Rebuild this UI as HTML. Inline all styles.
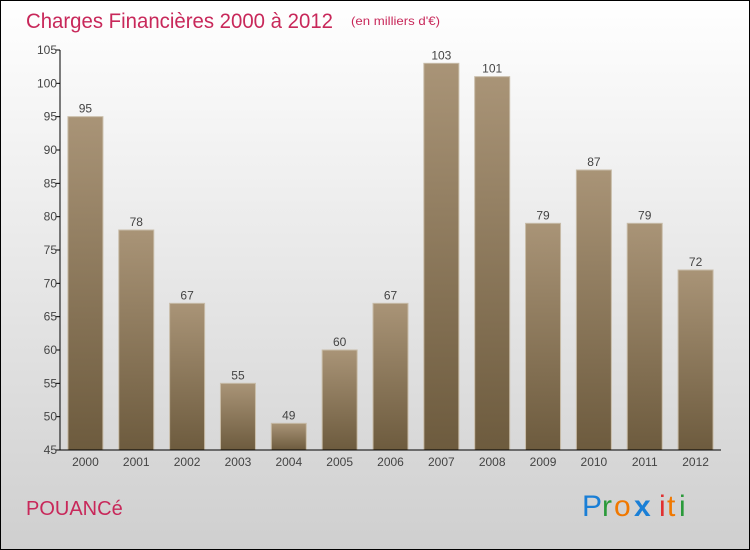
<!DOCTYPE html>
<html><head><meta charset="utf-8"><style>
body{margin:0;width:750px;height:550px;overflow:hidden}
svg{display:block}
text{font-family:"Liberation Sans",sans-serif}
</style></head><body>
<svg width="750" height="550">
<defs>
<linearGradient id="bg" x1="0" y1="0" x2="0" y2="1"><stop offset="0" stop-color="#ffffff"/><stop offset="1" stop-color="#cfcfcf"/></linearGradient>
<linearGradient id="bar" x1="0" y1="0" x2="0" y2="1"><stop offset="0" stop-color="#a99477"/><stop offset="1" stop-color="#6d5b3e"/></linearGradient>
</defs>
<rect x="0.5" y="0.5" width="749" height="549" fill="url(#bg)" stroke="#000"/>
<text x="26" y="28" font-size="21" fill="#c8285a" textLength="307" lengthAdjust="spacingAndGlyphs">Charges Financières 2000 à 2012</text>
<text x="351" y="25" font-size="12" fill="#c8285a" textLength="89" lengthAdjust="spacingAndGlyphs">(en milliers d'€)</text>
<g id="plot"></g>
<text x="26" y="515" font-size="20" fill="#c8285a">POUANCé</text>
<g font-size="30">
<text x="582" y="516" fill="#1a7fd6">P</text><text x="602" y="516" fill="#2a9a3a">r</text><text x="614" y="516" fill="#f07800">o</text><text x="634" y="516" fill="#1a7fd6" font-weight="bold">x</text><text x="659" y="516" fill="#e03030">i</text><text x="667" y="516" fill="#f07800">t</text><text x="679" y="516" fill="#2a9a3a">i</text>
</g>
</svg>
<script>
const categories=["2000","2001","2002","2003","2004","2005","2006","2007","2008","2009","2010","2011","2012"];
const values=[95,78,67,55,49,60,67,103,101,79,87,79,72];
const yTicks=[45,50,55,60,65,70,75,80,85,90,95,100,105];
const NS="http://www.w3.org/2000/svg";
const g=document.getElementById('plot');
const x0=60,x1=721,yTop=50,yBot=450,yMin=45,yMax=105;
const y=v=>yBot-(v-yMin)/(yMax-yMin)*(yBot-yTop);
const step=(x1-x0)/categories.length;
const xc=i=>x0+step*(i+0.5);
function mk(t,a){const e=document.createElementNS(NS,t);for(const k in a)e.setAttribute(k,a[k]);g.appendChild(e);return e;}
values.forEach((v,i)=>{
 const r=mk('rect',{x:xc(i)-17.5,y:y(v),width:35,height:yBot-y(v),fill:'url(#bar)',stroke:'#c8bca8','stroke-width':1});
 
 
 const t=mk('text',{x:xc(i),y:y(v)-4,'text-anchor':'middle','font-size':12,fill:'#444'});t.textContent=v;
 
 
 const c=mk('text',{x:xc(i),y:466,'text-anchor':'middle','font-size':12,fill:'#444'});c.textContent=categories[i];
 
 
});
yTicks.forEach(v=>{
 mk('line',{x1:x0-4,x2:x0,y1:y(v),y2:y(v),stroke:'#000'});
 const t=mk('text',{x:x0-3,y:y(v)+4,'text-anchor':'end','font-size':12,fill:'#444'});t.textContent=v;
 
 
});
const ya=mk('line',{x1:x0,x2:x0,y1:yTop,y2:yBot,stroke:'#000'});


const xa=mk('line',{x1:x0,x2:x1,y1:yBot,y2:yBot,stroke:'#000'});


</script>
</body></html>
